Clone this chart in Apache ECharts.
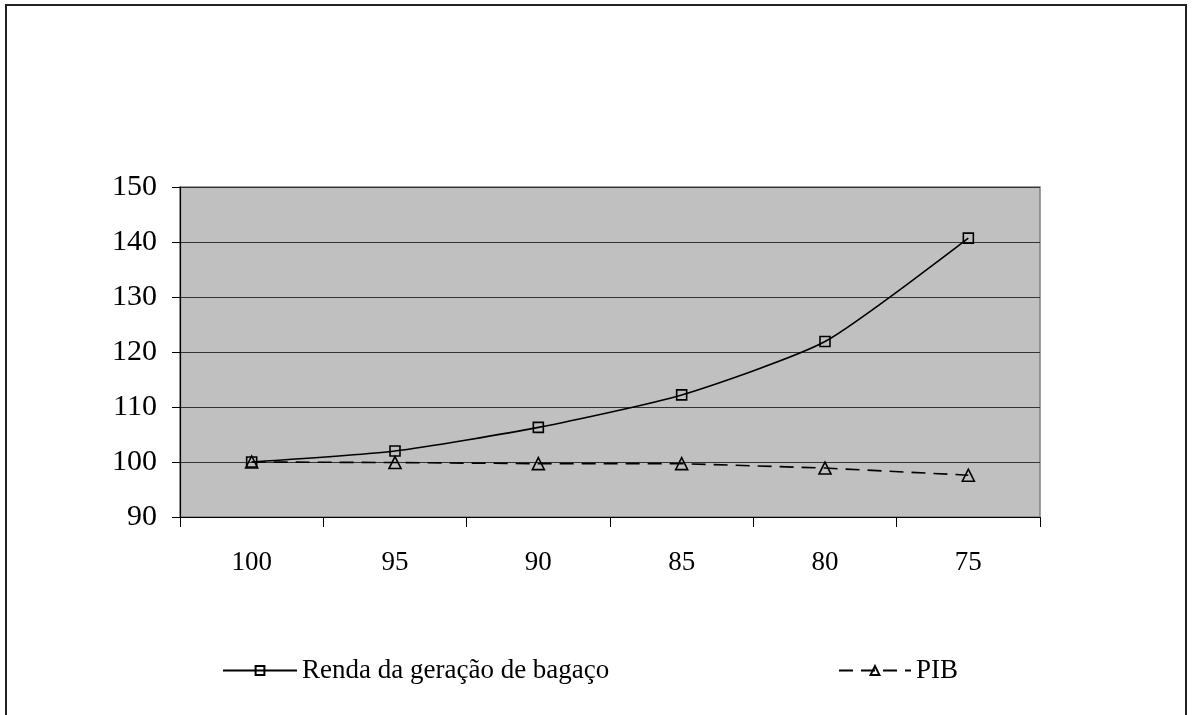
<!DOCTYPE html>
<html>
<head>
<meta charset="utf-8">
<script src="https://cdn.jsdelivr.net/npm/echarts@6/dist/echarts.min.js"></script>
<style>html,body{margin:0;padding:0;background:#fff;}#c{width:1197px;height:715px;}</style>
</head>
<body>
<div id="c"></div>
<script>
const categories = ['100', '95', '90', '85', '80', '75'];
const rendaName = 'Renda da geração de bagaço';
const pibName = 'PIB';
const rendaValues = [100, 102, 106.3, 112.2, 121.9, 140.7];
const pibValues = [100, 99.9, 99.7, 99.7, 98.9, 97.6];
const yMin = 90, yMax = 150, yStep = 10;

const font = 'Liberation Serif';
const chart = echarts.init(document.getElementById('c'), null, {renderer: 'canvas'});
chart.setOption({
  animation: false,
  backgroundColor: '#fff',
  graphic: [{
    type: 'rect', shape: {x: 6, y: 5, width: 1180, height: 720},
    style: {fill: 'none', stroke: '#222', lineWidth: 2}, silent: true
  }],
  grid: {left: 180, right: 157, top: 187, bottom: 198, show: true,
    backgroundColor: '#C0C0C0', borderColor: '#808080', borderWidth: 1.5},
  xAxis: {
    type: 'category', data: categories, boundaryGap: true,
    axisLine: {lineStyle: {color: '#000', width: 1.2}},
    axisTick: {show: true, length: 10, lineStyle: {color: '#000'}},
    axisLabel: {color: '#000', fontFamily: font, fontSize: 27, margin: 32},
    splitLine: {show: false}
  },
  yAxis: {
    type: 'value', min: yMin, max: yMax, interval: yStep,
    axisLine: {show: true, lineStyle: {color: '#000', width: 1.2}},
    axisTick: {show: true, length: 8, lineStyle: {color: '#000'}},
    axisLabel: {color: '#000', fontFamily: font, fontSize: 30, margin: 23},
    splitLine: {show: true, lineStyle: {color: '#333', width: 1}}
  },
  legend: [{
    left: 217, top: 652, itemWidth: 74, itemHeight: 11, itemGap: 0,
    textStyle: {fontFamily: font, fontSize: 27, color: '#000'},
    data: [rendaName]
  }, {
    left: 833, top: 652, itemWidth: 72, itemHeight: 11, itemGap: 0,
    textStyle: {fontFamily: font, fontSize: 27, color: '#000'},
    data: [pibName]
  }],
  series: [{
    name: rendaName, type: 'line', data: rendaValues, smooth: 0.2,
    symbol: 'rect', symbolSize: 10,
    lineStyle: {color: '#000', width: 1.6},
    itemStyle: {color: 'rgba(0,0,0,0)', borderColor: '#000', borderWidth: 1.6}
  }, {
    name: pibName, type: 'line', data: pibValues, smooth: false,
    symbol: 'triangle', symbolSize: 12,
    lineStyle: {color: '#000', width: 1.6, type: [14, 8]},
    itemStyle: {color: 'rgba(0,0,0,0)', borderColor: '#000', borderWidth: 1.6}
  }]
});
</script>
</body>
</html>
